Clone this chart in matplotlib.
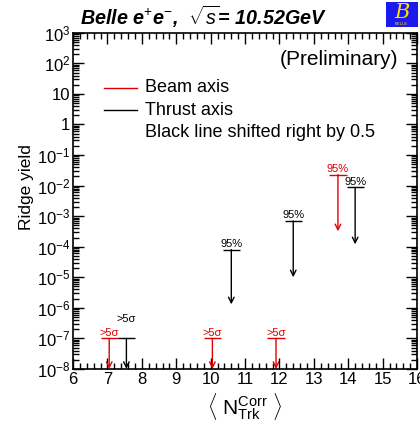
import numpy as np
import matplotlib
matplotlib.use("Agg")
import matplotlib.pyplot as plt
from matplotlib.ticker import FixedLocator, MultipleLocator, FuncFormatter, LogLocator
from matplotlib.patches import Rectangle

plt.rcParams["font.family"] = ["Liberation Sans", "DejaVu Sans"]
plt.rcParams["mathtext.fontset"] = "custom"
plt.rcParams["mathtext.rm"] = "Liberation Sans"
plt.rcParams["mathtext.it"] = "Liberation Sans:italic"
plt.rcParams["mathtext.bf"] = "Liberation Sans:bold"

RED = "#e00000"

# beam axis upper limits (red)
beam_x = [7.05, 10.05, 11.9, 13.7]
beam_top = [1e-7, 1e-7, 1e-7, 2.3e-2]
beam_bottom = [1e-8, 1e-8, 1e-8, 3.2e-4]
beam_label = [">5σ", ">5σ", ">5σ", "95%"]

# thrust axis upper limits (black, shifted right by 0.5)
thrust_x = [7.55, 10.6, 12.4, 14.2]
thrust_top = [1e-7, 8e-5, 7e-4, 8.7e-3]
thrust_bottom = [1e-8, 1.3e-6, 1e-5, 1.2e-4]
thrust_label = [">5σ", "95%", "95%", "95%"]

XMIN, XMAX = 6, 16
YMIN, YMAX = 1e-8, 1e3


def draw_limits(ax, xs, tops, bots, labels, color, label_offsets):
    for x, t, b, lab, off in zip(xs, tops, bots, labels, label_offsets):
        ax.hlines(t, x - 0.25, x + 0.25, color=color, lw=1.0)
        ax.annotate("", xy=(x, b), xytext=(x, t),
                    arrowprops=dict(arrowstyle="->", color=color, lw=1.0,
                                    shrinkA=0, shrinkB=0, mutation_scale=10))
        ax.annotate(lab, xy=(x, t), xytext=(0, off), textcoords="offset points",
                    ha="center", va="bottom", fontsize=8, color=color)


def ytick_fmt(v, pos):
    n = int(round(np.log10(v)))
    if n == 0:
        return "1"
    if n == 1:
        return "10"
    return r"$\mathregular{10^{%d}}$" % n


fig = plt.figure(figsize=(4.2, 4.32), dpi=100)
ax = fig.add_axes([0.174, 0.146, 0.819, 0.778])
ax.set_yscale("log")
ax.set_xlim(XMIN, XMAX)
ax.set_ylim(YMIN, YMAX)

draw_limits(ax, beam_x, beam_top, beam_bottom, beam_label, RED, [0.5] * 4)
draw_limits(ax, thrust_x, thrust_top, thrust_bottom, thrust_label, "black",
            [10, 0.5, 0.5, 0.5])

ax.xaxis.set_major_locator(MultipleLocator(1))
ax.xaxis.set_minor_locator(MultipleLocator(0.2))
ax.yaxis.set_major_locator(FixedLocator([10.0 ** k for k in range(-8, 4)]))
ax.yaxis.set_minor_locator(LogLocator(base=10, subs=np.arange(2, 10), numticks=20))
ax.yaxis.set_major_formatter(FuncFormatter(ytick_fmt))
ax.yaxis.set_minor_formatter(FuncFormatter(lambda v, p: ""))
ax.tick_params(which="both", direction="in", top=True, right=True, width=1.0)
ax.tick_params(which="major", length=8, labelsize=12, pad=2)
ax.tick_params(which="minor", length=4)
for s in ax.spines.values():
    s.set_linewidth(1.2)

ax.set_ylabel("Ridge yield", fontsize=12.5)
ax.yaxis.set_label_coords(-0.115, 0.54)
ax.set_xlabel(r"$\langle\ \mathregular{N_{Trk}^{Corr}}\ \rangle$", fontsize=15, labelpad=3)

# legend drawn by hand, ROOT style
ax.plot([6.9, 7.87], [16, 16], color=RED, lw=1.0)
ax.plot([6.9, 7.87], [2.9, 2.9], color="black", lw=1.0)
ax.text(8.1, 16, "Beam axis", fontsize=13, va="center")
ax.text(8.1, 2.9, "Thrust axis", fontsize=13, va="center")
ax.text(8.1, 0.54, "Black line shifted right by 0.5", fontsize=13, va="center")
ax.text(0.945, 0.92, "(Preliminary)", transform=ax.transAxes, fontsize=15,
        ha="right", va="center")

fig.text(0.19, 0.962, r"Belle e$^{+}$e$^{-}$,  $\sqrt{s}$= 10.52GeV",
         fontsize=14.2, fontweight="bold", fontstyle="italic", va="center")

# Belle logo box
fig.patches.append(Rectangle((0.918, 0.937), 0.077, 0.058, transform=fig.transFigure,
                             facecolor="#1a1aee", edgecolor="none"))
fig.text(0.956, 0.972, "B", color="#ffe000", fontsize=15, fontstyle="italic",
         ha="center", va="center", family="DejaVu Serif")
fig.text(0.956, 0.944, "BELLE", color="#ffe000", fontsize=3, ha="center", va="center")

fig.savefig("out.png", dpi=100)
